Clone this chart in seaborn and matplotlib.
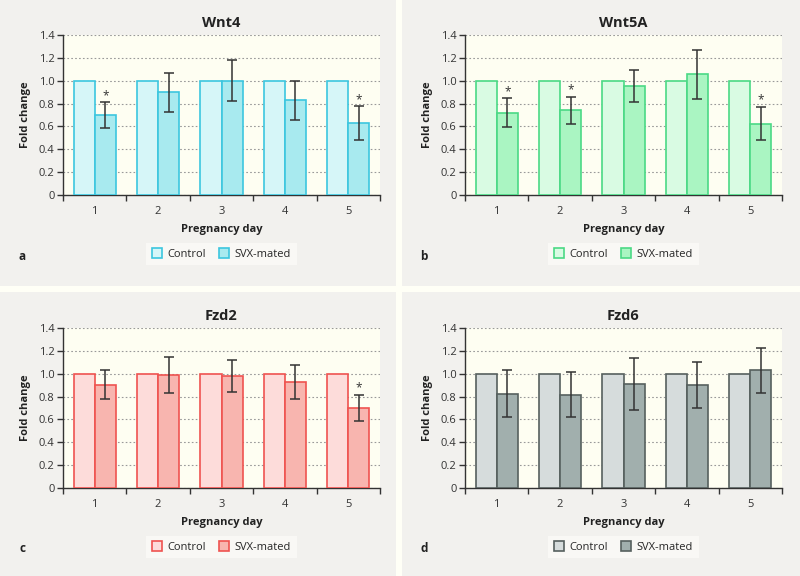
import pandas as pd
import matplotlib.pyplot as plt
import seaborn as sns
from matplotlib.patches import Rectangle
from matplotlib.ticker import FuncFormatter, FixedLocator

days = ["1", "2", "3", "4", "5"]
groups = ["Control", "SVX-mated"]
genes = ["Wnt4", "Wnt5A", "Fzd2", "Fzd6"]
letters = ["a", "b", "c", "d"]

control = [1.0, 1.0, 1.0, 1.0, 1.0]

wnt4_svx = [0.70, 0.90, 1.00, 0.83, 0.63]
wnt4_err = [0.11, 0.17, 0.18, 0.17, 0.145]
wnt4_sig = [True, False, False, False, True]

wnt5a_svx = [0.72, 0.74, 0.95, 1.055, 0.625]
wnt5a_err = [0.125, 0.12, 0.14, 0.215, 0.143]
wnt5a_sig = [True, True, False, False, True]

fzd2_svx = [0.905, 0.988, 0.982, 0.928, 0.70]
fzd2_err = [0.128, 0.16, 0.138, 0.147, 0.118]
fzd2_sig = [False, False, False, False, True]

fzd6_svx = [0.826, 0.815, 0.912, 0.903, 1.03]
fzd6_err = [0.208, 0.197, 0.226, 0.2, 0.197]
fzd6_sig = [False, False, False, False, False]

svx_values = [wnt4_svx, wnt5a_svx, fzd2_svx, fzd6_svx]
svx_errors = [wnt4_err, wnt5a_err, fzd2_err, fzd6_err]
svx_sig = [wnt4_sig, wnt5a_sig, fzd2_sig, fzd6_sig]

# (control fill, svx fill, edge)
colores = [
    ("#d6f6f8", "#a8eaef", "#3cc6df"),
    ("#d9fbe3", "#aaf5c2", "#4bd985"),
    ("#fddcda", "#f8b5af", "#ef5350"),
    ("#d6dcdc", "#a1afad", "#56605e"),
]

sns.set_style("white")
plt.rcParams['font.family'] = ['Open Sans', 'DejaVu Sans']

W, H = 800, 576
fig = plt.figure(figsize=(8, 5.76), dpi=100)
fig.patch.set_facecolor("#fffff6")

paneles = [(0, 0, 396, 286), (402, 0, 398, 286), (0, 292, 396, 284), (402, 292, 398, 284)]
ejes = [(63, 35, 380, 195), (465, 35, 782, 195), (63, 328, 380, 488), (465, 328, 782, 488)]

for i in range(4):
    px, py, pw, ph = paneles[i]
    fig.patches.append(Rectangle((px / W, 1 - (py + ph) / H), pw / W, ph / H,
                                 transform=fig.transFigure, facecolor="#f2f1ee",
                                 edgecolor="none", zorder=-10))
    x0, y0, x1, y1 = ejes[i]
    ax = fig.add_axes([x0 / W, 1 - y1 / H, (x1 - x0) / W, (y1 - y0) / H])
    ax.set_facecolor("#fefef2")

    df = pd.DataFrame({
        "day": days * 2,
        "group": [groups[0]] * 5 + [groups[1]] * 5,
        "value": control + svx_values[i],
    })
    c_ctrl, c_svx, c_edge = colores[i]
    sns.barplot(data=df, x="day", y="value", hue="group", ax=ax,
                palette=[c_ctrl, c_svx], width=0.667, gap=0,
                edgecolor=c_edge, linewidth=1.2, saturation=1, zorder=3)

    bars = ax.containers[1]
    for j, bar in enumerate(bars):
        xc = bar.get_x() + bar.get_width() / 2
        y = bar.get_height()
        e = svx_errors[i][j]
        ax.errorbar(xc, y, yerr=e, color="#333333", capsize=3.8, elinewidth=1.1,
                    capthick=1.1, zorder=4)
        if svx_sig[i][j]:
            ax.text(xc, y + e + 0.005, "*", ha="center", va="bottom",
                    fontsize=8.5, color="#333333", zorder=5)

    ax.set_xlim(-0.5, 4.5)
    ax.set_ylim(0, 1.4)
    ax.set_yticks([0, 0.2, 0.4, 0.6, 0.8, 1.0, 1.2, 1.4])
    ax.yaxis.set_major_formatter(FuncFormatter(lambda v, p: "0" if v == 0 else f"{v:.1f}"))
    ax.xaxis.set_minor_locator(FixedLocator([-0.5, 0.5, 1.5, 2.5, 3.5, 4.5]))
    ax.tick_params(axis="x", which="major", length=0, pad=8, labelsize=8, colors="#333333")
    ax.tick_params(axis="x", which="minor", length=4, width=1, color="#333333", bottom=True)
    ax.tick_params(axis="y", length=4, width=1, color="#333333", left=True, labelsize=8,
                   labelcolor="#333333", pad=2)
    ax.grid(axis="y", linestyle=(0, (1.5, 2)), color="#999999", linewidth=0.8, zorder=0)
    ax.set_axisbelow(True)
    for s in ["top", "right"]:
        ax.spines[s].set_visible(False)
    for s in ["left", "bottom"]:
        ax.spines[s].set_color("#333333")
        ax.spines[s].set_linewidth(1)

    ax.set_title(genes[i], fontsize=10.5, fontweight="bold", pad=6, color="#222222")
    ax.set_xlabel("Pregnancy day", fontsize=8, fontweight="bold", labelpad=5, color="#222222")
    ax.set_ylabel("Fold change", fontsize=8, fontweight="bold", labelpad=6, color="#222222")

    leg = ax.legend(loc="center", bbox_to_anchor=(0.5, -0.37), ncol=2, frameon=True,
                    fontsize=8, handlelength=0.9, handleheight=0.9, handletextpad=0.5,
                    columnspacing=1.2, borderpad=0.5, fancybox=False)
    leg.get_frame().set_facecolor("#fbfbf8")
    leg.get_frame().set_edgecolor("none")

    fig.text((px + 22) / W, 1 - (py + 256) / H, letters[i], fontsize=8.5,
             fontweight="bold", color="#222222", va="center", ha="center")

fig.savefig("out.png", dpi=100, facecolor=fig.get_facecolor())
